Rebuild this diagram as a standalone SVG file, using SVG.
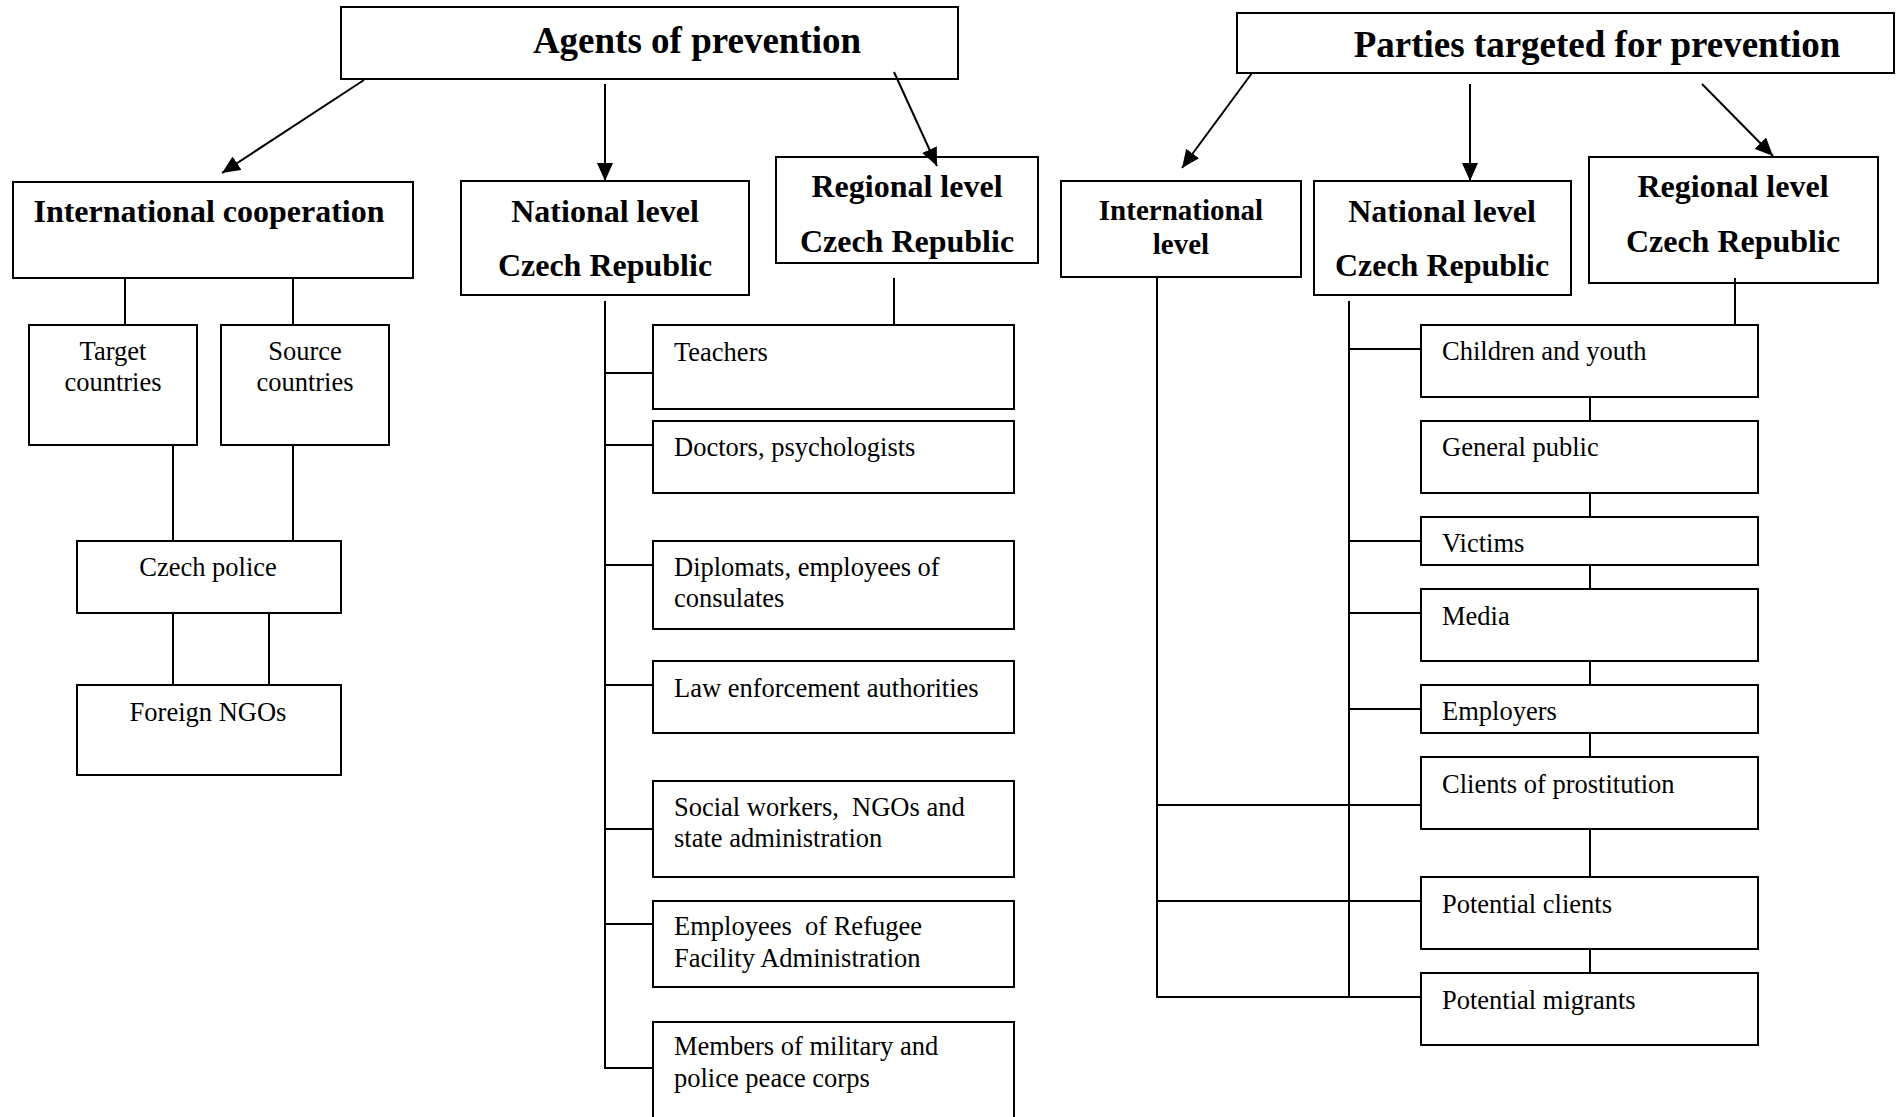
<svg xmlns="http://www.w3.org/2000/svg" width="1901" height="1117" viewBox="0 0 1901 1117">
<style>
  .box { fill: #fff; stroke: #000; stroke-width: 2; }
  .ln { stroke: #000; stroke-width: 2; fill: none; }
  .title { font-family: "Liberation Serif", "Times New Roman", serif; font-weight: bold; font-size: 37px; text-anchor: middle; fill: #000; }
  .head { font-family: "Liberation Serif", "Times New Roman", serif; font-weight: bold; font-size: 32px; text-anchor: middle; fill: #000; }
  .body { font-family: "Liberation Serif", "Times New Roman", serif; font-size: 26.5px; fill: #000; }
  .mid { text-anchor: middle; }
</style>
<defs>
  <marker id="arr" markerUnits="userSpaceOnUse" markerWidth="20" markerHeight="16" refX="18" refY="8" orient="auto">
    <path d="M0,0 L18,8 L0,16 Z" fill="#000"/>
  </marker>
</defs>
<rect width="1901" height="1117" fill="#fff"/>

<g id="agents">
  <rect class="box" x="341" y="7" width="617" height="72"/>
  <text class="title" x="697" y="53">Agents of prevention</text>
</g>
<g id="intl-coop">
  <rect class="box" x="13" y="182" width="400" height="96"/>
  <text class="head" x="209" y="222">International cooperation</text>
</g>
<g id="national-left">
  <rect class="box" x="461" y="181" width="288" height="114"/>
  <text class="head" x="605" y="222">National level</text>
  <text class="head" x="605" y="276">Czech Republic</text>
</g>
<g id="regional-left">
  <rect class="box" x="776" y="157" width="262" height="106"/>
  <text class="head" x="907" y="197">Regional level</text>
  <text class="head" x="907" y="252">Czech Republic</text>
</g>
<g id="target">
  <rect class="box" x="29" y="325" width="168" height="120"/>
  <text class="body mid" x="113" y="360">Target</text>
  <text class="body mid" x="113" y="391">countries</text>
</g>
<g id="source">
  <rect class="box" x="221" y="325" width="168" height="120"/>
  <text class="body mid" x="305" y="360">Source</text>
  <text class="body mid" x="305" y="391">countries</text>
</g>
<g id="czech-police">
  <rect class="box" x="77" y="541" width="264" height="72"/>
  <text class="body mid" x="208" y="576">Czech police</text>
</g>
<g id="foreign-ngos">
  <rect class="box" x="77" y="685" width="264" height="90"/>
  <text class="body mid" x="208" y="721">Foreign NGOs</text>
</g>

<g id="teachers">
  <rect class="box" x="653" y="325" width="361" height="84"/>
  <text class="body" x="674" y="361">Teachers</text>
</g>
<g id="doctors">
  <rect class="box" x="653" y="421" width="361" height="72"/>
  <text class="body" x="674" y="456">Doctors, psychologists</text>
</g>
<g id="diplomats">
  <rect class="box" x="653" y="541" width="361" height="88"/>
  <text class="body" x="674" y="576">Diplomats, employees of</text>
  <text class="body" x="674" y="607">consulates</text>
</g>
<g id="law">
  <rect class="box" x="653" y="661" width="361" height="72"/>
  <text class="body" x="674" y="697">Law enforcement authorities</text>
</g>
<g id="social">
  <rect class="box" x="653" y="781" width="361" height="96"/>
  <text class="body" x="674" y="816" xml:space="preserve">Social workers,  NGOs and</text>
  <text class="body" x="674" y="847">state administration</text>
</g>
<g id="refugee">
  <rect class="box" x="653" y="901" width="361" height="86"/>
  <text class="body" x="674" y="935" xml:space="preserve">Employees  of Refugee</text>
  <text class="body" x="674" y="967">Facility Administration</text>
</g>
<g id="military">
  <rect class="box" x="653" y="1022" width="361" height="100"/>
  <text class="body" x="674" y="1055">Members of military and</text>
  <text class="body" x="674" y="1087">police peace corps</text>
</g>

<g id="parties">
  <rect class="box" x="1237" y="13" width="657" height="60"/>
  <text class="title" x="1597" y="57">Parties targeted for prevention</text>
</g>
<g id="intl-level">
  <rect class="box" x="1061" y="181" width="240" height="96"/>
  <text class="head" x="1181" y="220" style="font-size:29px">International</text>
  <text class="head" x="1181" y="254" style="font-size:29px">level</text>
</g>
<g id="national-right">
  <rect class="box" x="1314" y="181" width="257" height="114"/>
  <text class="head" x="1442" y="222">National level</text>
  <text class="head" x="1442" y="276">Czech Republic</text>
</g>
<g id="regional-right">
  <rect class="box" x="1589" y="157" width="289" height="126"/>
  <text class="head" x="1733" y="197">Regional level</text>
  <text class="head" x="1733" y="252">Czech Republic</text>
</g>

<g id="children">
  <rect class="box" x="1421" y="325" width="337" height="72"/>
  <text class="body" x="1442" y="360">Children and youth</text>
</g>
<g id="public">
  <rect class="box" x="1421" y="421" width="337" height="72"/>
  <text class="body" x="1442" y="456">General public</text>
</g>
<g id="victims">
  <rect class="box" x="1421" y="517" width="337" height="48"/>
  <text class="body" x="1442" y="552">Victims</text>
</g>
<g id="media">
  <rect class="box" x="1421" y="589" width="337" height="72"/>
  <text class="body" x="1442" y="625">Media</text>
</g>
<g id="employers">
  <rect class="box" x="1421" y="685" width="337" height="48"/>
  <text class="body" x="1442" y="720">Employers</text>
</g>
<g id="clients">
  <rect class="box" x="1421" y="757" width="337" height="72"/>
  <text class="body" x="1442" y="793">Clients of prostitution</text>
</g>
<g id="potential-clients">
  <rect class="box" x="1421" y="877" width="337" height="72"/>
  <text class="body" x="1442" y="913">Potential clients</text>
</g>
<g id="potential-migrants">
  <rect class="box" x="1421" y="973" width="337" height="72"/>
  <text class="body" x="1442" y="1009">Potential migrants</text>
</g>

<g id="connectors">
  <line class="ln" x1="364" y1="80" x2="222" y2="173" marker-end="url(#arr)"/>
  <line class="ln" x1="605" y1="84" x2="605" y2="181" marker-end="url(#arr)"/>
  <line class="ln" x1="894" y1="72" x2="937" y2="166" marker-end="url(#arr)"/>
  <line class="ln" x1="125" y1="278" x2="125" y2="325"/>
  <line class="ln" x1="293" y1="278" x2="293" y2="325"/>
  <line class="ln" x1="173" y1="445" x2="173" y2="541"/>
  <line class="ln" x1="293" y1="445" x2="293" y2="541"/>
  <line class="ln" x1="173" y1="613" x2="173" y2="685"/>
  <line class="ln" x1="269" y1="613" x2="269" y2="685"/>
  <line class="ln" x1="605" y1="301" x2="605" y2="1069"/>
  <line class="ln" x1="604" y1="373" x2="653" y2="373"/>
  <line class="ln" x1="604" y1="445" x2="653" y2="445"/>
  <line class="ln" x1="604" y1="565" x2="653" y2="565"/>
  <line class="ln" x1="604" y1="685" x2="653" y2="685"/>
  <line class="ln" x1="604" y1="829" x2="653" y2="829"/>
  <line class="ln" x1="604" y1="924" x2="653" y2="924"/>
  <line class="ln" x1="604" y1="1068" x2="653" y2="1068"/>
  <line class="ln" x1="894" y1="278" x2="894" y2="325"/>

  <line class="ln" x1="1252" y1="73" x2="1182" y2="168" marker-end="url(#arr)"/>
  <line class="ln" x1="1470" y1="84" x2="1470" y2="181" marker-end="url(#arr)"/>
  <line class="ln" x1="1702" y1="84" x2="1773" y2="156" marker-end="url(#arr)"/>
  <line class="ln" x1="1157" y1="277" x2="1157" y2="998"/>
  <line class="ln" x1="1349" y1="301" x2="1349" y2="998"/>
  <line class="ln" x1="1348" y1="349" x2="1421" y2="349"/>
  <line class="ln" x1="1348" y1="541" x2="1421" y2="541"/>
  <line class="ln" x1="1348" y1="613" x2="1421" y2="613"/>
  <line class="ln" x1="1348" y1="709" x2="1421" y2="709"/>
  <line class="ln" x1="1156" y1="805" x2="1421" y2="805"/>
  <line class="ln" x1="1156" y1="901" x2="1421" y2="901"/>
  <line class="ln" x1="1156" y1="997" x2="1421" y2="997"/>
  <line class="ln" x1="1735" y1="278" x2="1735" y2="325"/>
  <line class="ln" x1="1590" y1="397" x2="1590" y2="421"/>
  <line class="ln" x1="1590" y1="493" x2="1590" y2="517"/>
  <line class="ln" x1="1590" y1="565" x2="1590" y2="589"/>
  <line class="ln" x1="1590" y1="661" x2="1590" y2="685"/>
  <line class="ln" x1="1590" y1="733" x2="1590" y2="757"/>
  <line class="ln" x1="1590" y1="829" x2="1590" y2="877"/>
  <line class="ln" x1="1590" y1="949" x2="1590" y2="973"/>
</g>
</svg>
